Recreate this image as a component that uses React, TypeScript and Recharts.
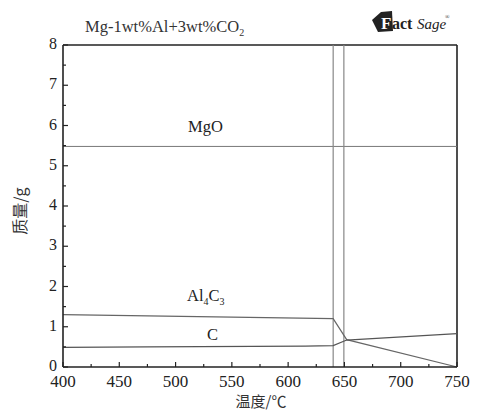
import { LineChart, Line, XAxis, YAxis, ReferenceLine } from "recharts";

const X_TICKS = [400, 425, 450, 475, 500, 525, 550, 575, 600, 625, 650, 675, 700, 725, 750];
const Y_TICKS = [0, 0.5, 1, 1.5, 2, 2.5, 3, 3.5, 4, 4.5, 5, 5.5, 6, 6.5, 7, 7.5, 8];

const mgo = [
  { t: 400, m: 5.48 },
  { t: 750, m: 5.48 },
];
const al4c3 = [
  { t: 400, m: 1.3 },
  { t: 640, m: 1.2 },
  { t: 652, m: 0.68 },
  { t: 750, m: 0 },
];
const carbon = [
  { t: 400, m: 0.49 },
  { t: 475, m: 0.5 },
  { t: 615, m: 0.52 },
  { t: 640, m: 0.53 },
  { t: 652, m: 0.67 },
  { t: 750, m: 0.83 },
];
const solidus = [
  { t: 640, m: 0 },
  { t: 640, m: 8 },
];
const liquidus = [
  { t: 649.5, m: 0 },
  { t: 649.5, m: 8 },
];

const SERIF = "Liberation Serif";
const CJK = "Noto Sans CJK SC";

function XTick(props: any) {
  const { x, y, payload } = props;
  const major = payload.value % 50 === 0;
  return (
    <g>
      <line x1={x} y1={y} x2={x} y2={y - (major ? 5 : 3)} stroke="#222" strokeWidth={1.2} />
      {major && (
        <text x={x} y={y + 20} textAnchor="middle" fontFamily={SERIF} fontSize={17} fill="#222">
          {payload.value}
        </text>
      )}
    </g>
  );
}

function YTick(props: any) {
  const { x, y, payload } = props;
  const major = Number.isInteger(payload.value);
  return (
    <g>
      <line x1={x} y1={y} x2={x + (major ? 5 : 3)} y2={y} stroke="#222" strokeWidth={1.2} />
      {major && (
        <text x={x - 6} y={y + 4} textAnchor="end" fontFamily={SERIF} fontSize={16} fill="#222">
          {payload.value}
        </text>
      )}
    </g>
  );
}

export default function App() {
  return (
    <div style={{ position: "absolute", left: 0, top: 0, width: 477, height: 413, background: "#fff" }}>
      <LineChart width={477} height={413} margin={{ top: 45, right: 20, bottom: 45, left: 62 }}>
        <XAxis
          type="number"
          dataKey="t"
          domain={[400, 750]}
          ticks={X_TICKS}
          interval={0}
          height={1}
          tickSize={0}
          tickMargin={0}
          tick={<XTick />}
          axisLine={{ stroke: "#222", strokeWidth: 1.6 }}
          allowDuplicatedCategory={false}
        />
        <YAxis
          type="number"
          dataKey="m"
          domain={[0, 8]}
          ticks={Y_TICKS}
          interval={0}
          width={1}
          tickSize={0}
          tickMargin={0}
          tick={<YTick />}
          axisLine={{ stroke: "#222", strokeWidth: 1.6 }}
        />
        <ReferenceLine y={8} stroke="#222" strokeWidth={1.6} />
        <ReferenceLine x={750} stroke="#222" strokeWidth={1.6} />
        <Line data={mgo} dataKey="m" stroke="#777" strokeWidth={1} dot={false} isAnimationActive={false} />
        <Line data={solidus} dataKey="m" stroke="#888" strokeWidth={1.2} dot={false} isAnimationActive={false} />
        <Line data={liquidus} dataKey="m" stroke="#888" strokeWidth={1.2} dot={false} isAnimationActive={false} />
        <Line data={al4c3} dataKey="m" stroke="#666" strokeWidth={1.2} dot={false} isAnimationActive={false} />
        <Line data={carbon} dataKey="m" stroke="#555" strokeWidth={1.2} dot={false} isAnimationActive={false} />
      </LineChart>
      <svg width={477} height={413} style={{ position: "absolute", left: 0, top: 0, pointerEvents: "none" }}>
        <text x={85} y={32} fontFamily={SERIF} fontSize={16.5} fill="#333">
          Mg-1wt%Al+3wt%CO
          <tspan fontSize={10} dy={4}>2</tspan>
        </text>
        <g transform="translate(372,11)">
          <path d="M0,9 L9,1 L20,0 L21,20 L6,21 Z" fill="#222" />
          <text x={9} y={18} fontFamily={SERIF} fontSize={17} fontWeight="bold" fill="#fff">F</text>
          <text x={20} y={18} fontFamily={SERIF} fontSize={16} fontWeight="bold" fill="#222">act</text>
          <text x={45} y={18} fontFamily={SERIF} fontSize={15} fontStyle="italic" fill="#222">Sage</text>
          <text x={73} y={8} fontFamily={SERIF} fontSize={6} fill="#222">®</text>
        </g>
        <text x={188} y={132} fontFamily={SERIF} fontSize={16.5} fill="#222">MgO</text>
        <text x={187} y={301} fontFamily={SERIF} fontSize={16.5} fill="#222">
          Al<tspan fontSize={10} dy={4}>4</tspan>
          <tspan dy={-4}>C</tspan>
          <tspan fontSize={10} dy={4}>3</tspan>
        </text>
        <text x={207} y={340} fontFamily={SERIF} fontSize={16.5} fill="#222">C</text>
        <text
          x={26}
          y={211}
          transform="rotate(-90 26 211)"
          textAnchor="middle"
          fontFamily={CJK}
          fontSize={16}
          fill="#333"
        >
          质量/g
        </text>
        <text x={261} y={407} textAnchor="middle" fontFamily={CJK} fontSize={15} fill="#333">
          温度/℃
        </text>
      </svg>
    </div>
  );
}
